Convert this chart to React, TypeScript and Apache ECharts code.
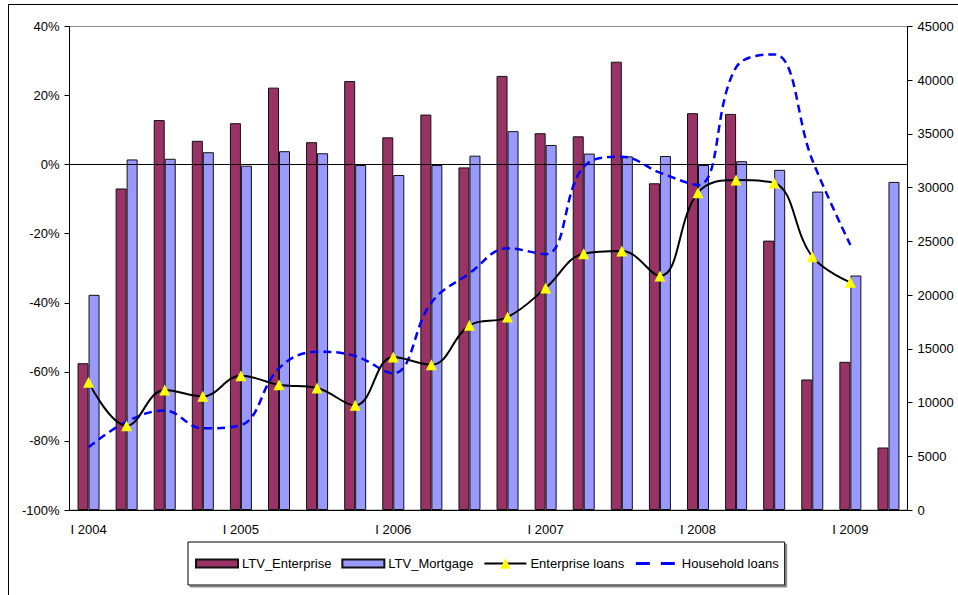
import React, { useEffect, useRef } from "react";
import * as echarts from "echarts";

const categories = [
  "I 2004", "II 2004", "III 2004", "IV 2004",
  "I 2005", "II 2005", "III 2005", "IV 2005",
  "I 2006", "II 2006", "III 2006", "IV 2006",
  "I 2007", "II 2007", "III 2007", "IV 2007",
  "I 2008", "II 2008", "III 2008", "IV 2008",
  "I 2009", "II 2009",
];
const ltvEnterprise = [-57.5, -6.9, 12.9, 6.9, 12.0, 22.3, 6.5, 24.2, 7.9, 14.5, -0.8, 25.7, 9.1, 8.2, 29.8, -5.4, 14.9, 14.7, -22.0, -62.2, -57.1, -81.9];
const ltvMortgage = [-37.7, 1.5, 1.7, 3.6, -0.3, 3.9, 3.3, -0.1, -3.0, -0.1, 2.6, 9.7, 5.7, 3.2, 2.4, 2.5, -0.1, 1.0, -1.5, -7.8, -32.1, -5.0];
const enterpriseLoans = [11900, 7850, 11170, 10580, 12500, 11660, 11355, 9740, 14240, 13520, 17190, 17960, 20660, 23860, 24110, 21780, 29530, 30710, 30440, 23580, 21190, null];
const householdLoans = [5840, 8220, 9250, 7600, 7900, 13190, 14730, 14330, 12720, 19300, 22030, 24350, 23800, 31950, 32880, 31400, 30250, 41200, 42400, 32580, 24660, null];

// left axis: bars rise from the -100% floor
const leftMin = -100;
const leftMax = 40;

const FONT = "'Liberation Sans', Arial, sans-serif";

const rectIcon = "path://M0,0 M42,13 M0,2.5h42v8H0z";

export default function App() {
  const ref = useRef<HTMLDivElement>(null);
  useEffect(() => {
    if (!ref.current) return;
    const chart = echarts.init(ref.current, null, { renderer: "svg" });
    const shift = (v: number) => v - leftMin;
    const option: any = {
      animation: false,
      backgroundColor: "#fff",
      textStyle: { fontFamily: FONT, color: "#000" },
      grid: {
        left: 69.5,
        right: 50.5,
        top: 26.5,
        bottom: 85,
        show: true,
        borderColor: "#909090",
        borderWidth: 1,
      },
      graphic: [
        { type: "line", shape: { x1: 8, y1: 4.5, x2: 958, y2: 4.5 }, style: { stroke: "#000", lineWidth: 1 }, silent: true },
        { type: "line", shape: { x1: 8.5, y1: 4, x2: 8.5, y2: 595 }, style: { stroke: "#000", lineWidth: 1 }, silent: true },
      ],
      legend: {
        left: 188,
        top: 542,
        padding: [14, 6, 14, 7],
        itemGap: 10,
        itemWidth: 42,
        itemHeight: 13,
        borderColor: "#000",
        borderWidth: 1,
        backgroundColor: "#fff",
        shadowColor: "#888",
        shadowBlur: 0,
        shadowOffsetX: 2,
        shadowOffsetY: 2,
        textStyle: { fontFamily: FONT, fontSize: 13, color: "#000", padding: [0, 0, 0, -1] },
        data: [
          { name: "LTV_Enterprise", icon: rectIcon },
          { name: "LTV_Mortgage", icon: rectIcon },
          { name: "Enterprise loans", lineStyle: { width: 2 } },
          {
            name: "Household loans",
            itemStyle: { opacity: 0 },
            lineStyle: { width: 3, type: [14, 11], color: "#0000FF" },
          },
        ],
      },
      xAxis: {
        type: "category",
        data: categories,
        boundaryGap: true,
        axisLine: { lineStyle: { color: "#000", width: 1 } },
        axisTick: { interval: 0, length: 5, lineStyle: { color: "#000" } },
        axisLabel: {
          interval: 3,
          margin: 13,
          fontSize: 13,
          fontFamily: FONT,
          color: "#000",
        },
        splitLine: { show: false },
      },
      yAxis: [
        {
          type: "value",
          min: 0,
          max: leftMax - leftMin,
          interval: 20,
          axisLine: { show: true, lineStyle: { color: "#000" } },
          axisTick: { show: true, length: 5, lineStyle: { color: "#000" } },
          axisLabel: {
            margin: 10,
            fontSize: 13,
            fontFamily: FONT,
            color: "#000",
            formatter: (v: number) => `${Math.round(v + leftMin)}%`,
          },
          splitLine: { show: false },
        },
        {
          type: "value",
          min: 0,
          max: 45000,
          interval: 5000,
          position: "right",
          axisLine: { show: true, lineStyle: { color: "#000" } },
          axisTick: { show: true, length: 5, lineStyle: { color: "#000" } },
          axisLabel: {
            margin: 10,
            fontSize: 13,
            fontFamily: FONT,
            color: "#000",
            formatter: (v: number) => String(v),
          },
          splitLine: { show: false },
        },
      ],
      series: [
        {
          name: "LTV_Enterprise",
          type: "bar",
          yAxisIndex: 0,
          barWidth: 11,
          barGap: "0%",
          data: ltvEnterprise.map(shift),
          itemStyle: { color: "#993366", borderColor: "#111", borderWidth: 1 },
          z: 2,
        },
        {
          name: "LTV_Mortgage",
          type: "bar",
          yAxisIndex: 0,
          barWidth: 11,
          barGap: "0%",
          data: ltvMortgage.map(shift),
          itemStyle: { color: "#9999FF", borderColor: "#111", borderWidth: 1 },
          z: 2,
          markLine: {
            silent: true,
            symbol: ["none", "none"],
            label: { show: false },
            lineStyle: { color: "#000", width: 1, type: "solid" },
            data: [{ yAxis: shift(0) }],
            z: 3,
          },
        },
        {
          name: "Enterprise loans",
          type: "line",
          yAxisIndex: 1,
          data: enterpriseLoans,
          smooth: 0.4,
          symbol: "triangle",
          symbolSize: 11,
          showAllSymbol: true,
          itemStyle: { color: "#FFFF00", borderWidth: 0 },
          lineStyle: { color: "#000", width: 2 },
          z: 5,
        },
        {
          name: "Household loans",
          type: "line",
          yAxisIndex: 1,
          data: householdLoans,
          smooth: 0.4,
          symbol: "none",
          itemStyle: { color: "#0000FF" },
          lineStyle: { color: "#0000FF", width: 2.5, type: [8, 5] },
          z: 4,
        },
      ],
    };
    chart.setOption(option);
    return () => chart.dispose();
  }, []);
  return (
    <div
      ref={ref}
      style={{ position: "fixed", left: 0, top: 0, width: 958, height: 595 }}
    />
  );
}
